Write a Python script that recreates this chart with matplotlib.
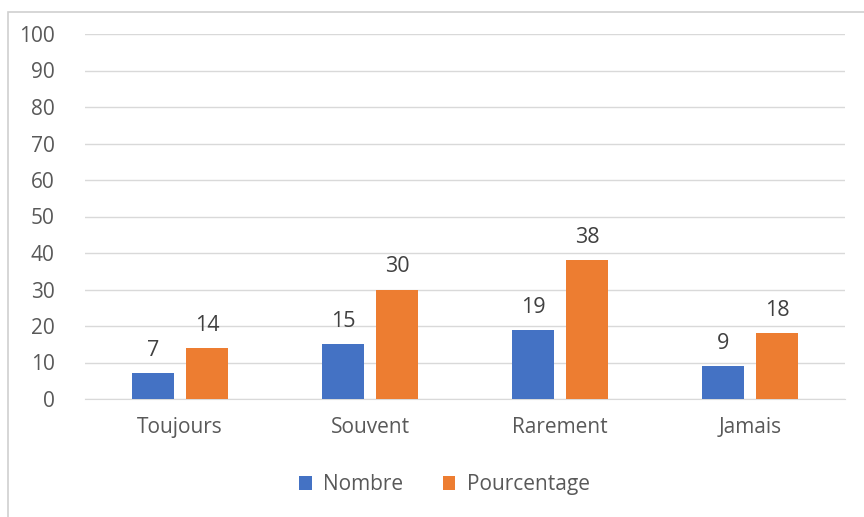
import matplotlib
matplotlib.use("Agg")
import matplotlib.pyplot as plt
from matplotlib.patches import Rectangle
import numpy as np

categories = ["Toujours", "Souvent", "Rarement", "Jamais"]
nombre = [7, 15, 19, 9]
pourcentage = [14, 30, 38, 18]
yticks = [0, 10, 20, 30, 40, 50, 60, 70, 80, 90, 100]

plt.rcParams['font.family'] = ['Open Sans', 'DejaVu Sans']

fig = plt.figure(figsize=(8.64, 5.17), dpi=100)
W, H = 864, 517
# outer chart frame
fig.patches.append(Rectangle((8 / W, -0.01), 1.0, (517 - 12) / H + 0.01,
                             transform=fig.transFigure, fill=False,
                             edgecolor="#d0d0d0", linewidth=1.2))

ax = fig.add_axes([85 / W, (517 - 399) / H, (845 - 85) / W, (399 - 34) / H])
x = np.arange(len(categories))
w = 0.22
off = 0.142
blue = "#4472c4"
orange = "#ed7d31"
b1 = ax.bar(x - off, nombre, w, color=blue, label="Nombre", zorder=3)
b2 = ax.bar(x + off, pourcentage, w, color=orange, label="Pourcentage", zorder=3)
for bars, vals in ((b1, nombre), (b2, pourcentage)):
    for r, v in zip(bars, vals):
        ax.text(r.get_x() + r.get_width() / 2, v + 3.3, str(v), ha="center",
                va="bottom", fontsize=15.5, color="#404040")

ax.set_xlim(-0.5, 3.5)
ax.set_ylim(0, 100)
ax.set_yticks(yticks)
ax.set_xticks(x)
ax.set_xticklabels(categories)
ax.tick_params(axis="both", length=0, labelsize=15, colors="#595959")
ax.tick_params(axis="y", pad=22)
ax.tick_params(axis="x", pad=13)
ax.grid(axis="y", color="#d9d9d9", linewidth=1, zorder=0)
for s in ["top", "right", "left"]:
    ax.spines[s].set_visible(False)
ax.spines["bottom"].set_color("#d9d9d9")

ax.legend(loc="upper center", bbox_to_anchor=(0.473, -0.155), ncol=2, frameon=False,
          fontsize=15, labelcolor="#595959", handlelength=0.6, handleheight=0.6,
          columnspacing=1.9, handletextpad=0.55)

fig.savefig("out.png", dpi=100)
